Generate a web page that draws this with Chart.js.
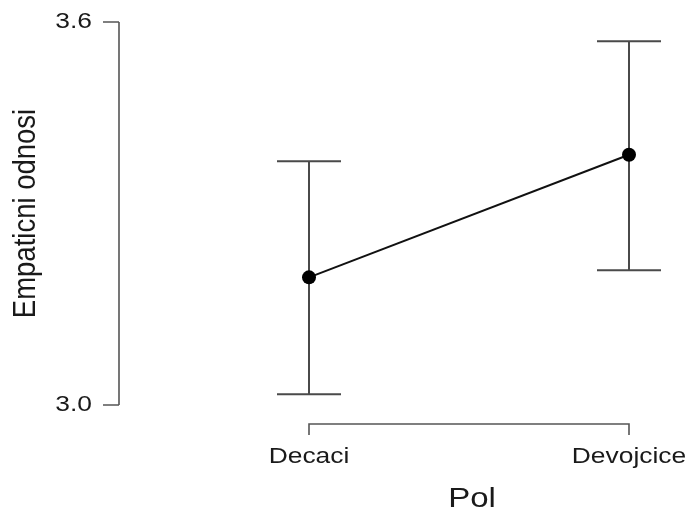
<!DOCTYPE html>
<html>
<head>
<meta charset="utf-8">
<script src="https://cdn.jsdelivr.net/npm/chart.js@4/dist/chart.umd.min.js"></script>
<style>
  html, body { margin: 0; padding: 0; background: #fff; }
  #wrap { width: 688px; height: 510px; position: relative; }
</style>
</head>
<body>
<div id="wrap"><canvas id="plot"></canvas></div>
<script>
// data
const categories = ['Decaci', 'Devojcice'];
const means = [3.20, 3.392];
const lower = [3.017, 3.211];
const upper = [3.382, 3.570];
const yTicks = [3.0, 3.6];
const xTitle = 'Pol';
const yTitle = 'Empaticni odnosi';

const FONT = '"Liberation Sans", Arial, sans-serif';
const STRETCH = 1.2; // reference text is a little wide
const INK = '#1a1a1a';
const AXIS = '#555555';

function drawText(ctx, text, x, y, size, align, baseline) {
    ctx.save();
    ctx.translate(x, y);
    ctx.scale(STRETCH, 1);
    ctx.font = size + 'px ' + FONT;
    ctx.fillStyle = INK;
    ctx.textAlign = align;
    ctx.textBaseline = baseline;
    ctx.fillText(text, 0, 0);
    ctx.restore();
}

// error bars behind the line
const errorBars = {
    id: 'errorBars',
    beforeDatasetsDraw(chart) {
        const ctx = chart.ctx;
        const xs = chart.scales.x, ys = chart.scales.y;
        ctx.save();
        ctx.strokeStyle = '#4a4a4a';
        ctx.lineWidth = 2;
        categories.forEach((c, i) => {
            const px = xs.getPixelForValue(i);
            const top = ys.getPixelForValue(upper[i]);
            const bot = ys.getPixelForValue(lower[i]);
            ctx.beginPath();
            ctx.moveTo(px, top); ctx.lineTo(px, bot);
            ctx.moveTo(px - 32, top); ctx.lineTo(px + 32, top);
            ctx.moveTo(px - 32, bot); ctx.lineTo(px + 32, bot);
            ctx.stroke();
        });
        ctx.restore();
    }
};

// R style axes: y line between end ticks, x bracket between categories
const rAxes = {
    id: 'rAxes',
    afterDraw(chart) {
        const ctx = chart.ctx;
        const xs = chart.scales.x, ys = chart.scales.y;
        const area = chart.chartArea;
        ctx.save();
        ctx.strokeStyle = AXIS;
        ctx.lineWidth = 1.6;

        // y axis
        const ax = area.left;
        const yTop = ys.getPixelForValue(yTicks[yTicks.length - 1]);
        const yBot = ys.getPixelForValue(yTicks[0]);
        ctx.beginPath();
        ctx.moveTo(ax, yTop); ctx.lineTo(ax, yBot);
        yTicks.forEach(t => {
            const py = ys.getPixelForValue(t);
            ctx.moveTo(ax, py); ctx.lineTo(ax - 16, py);
        });
        ctx.stroke();
        yTicks.forEach(t => {
            drawText(ctx, t.toFixed(1), ax - 27, ys.getPixelForValue(t), 22, 'right', 'middle');
        });

        // x axis bracket
        const ay = area.bottom + 19;
        const x0 = xs.getPixelForValue(0);
        const x1 = xs.getPixelForValue(categories.length - 1);
        ctx.beginPath();
        ctx.moveTo(x0, ay + 11); ctx.lineTo(x0, ay); ctx.lineTo(x1, ay); ctx.lineTo(x1, ay + 11);
        ctx.stroke();
        categories.forEach((c, i) => {
            drawText(ctx, c, xs.getPixelForValue(i), ay + 39, 22, 'center', 'alphabetic');
        });

        // axis titles
        drawText(ctx, xTitle, 472, 507, 27.5, 'center', 'alphabetic');
        ctx.save();
        ctx.translate(35, (yTop + yBot) / 2);
        ctx.rotate(-Math.PI / 2);
        ctx.scale(1, 1.15);
        ctx.font = '27.5px ' + FONT;
        ctx.fillStyle = INK;
        ctx.textAlign = 'center';
        ctx.textBaseline = 'alphabetic';
        ctx.fillText(yTitle, 0, 0);
        ctx.restore();

        ctx.restore();
    }
};

new Chart(document.getElementById('plot'), {
    type: 'line',
    data: {
        datasets: [{
            data: means.map((m, i) => ({ x: i, y: m })),
            borderColor: '#111111',
            borderWidth: 2,
            pointRadius: 7,
            pointBackgroundColor: '#000000',
            pointBorderColor: '#000000',
            pointBorderWidth: 0,
            clip: false
        }]
    },
    plugins: [errorBars, rAxes],
    options: {
        responsive: true,
        maintainAspectRatio: false,
        animation: false,
        events: [],
        layout: { padding: { left: 119, right: 11, top: 22, bottom: 105 } },
        plugins: {
            legend: { display: false },
            tooltip: { enabled: false },
            title: { display: false }
        },
        scales: {
            x: { type: 'linear', display: false, min: -0.59375, max: 1.15 },
            y: { type: 'linear', display: false, min: 3.0, max: 3.6 }
        }
    }
});
</script>
</body>
</html>
